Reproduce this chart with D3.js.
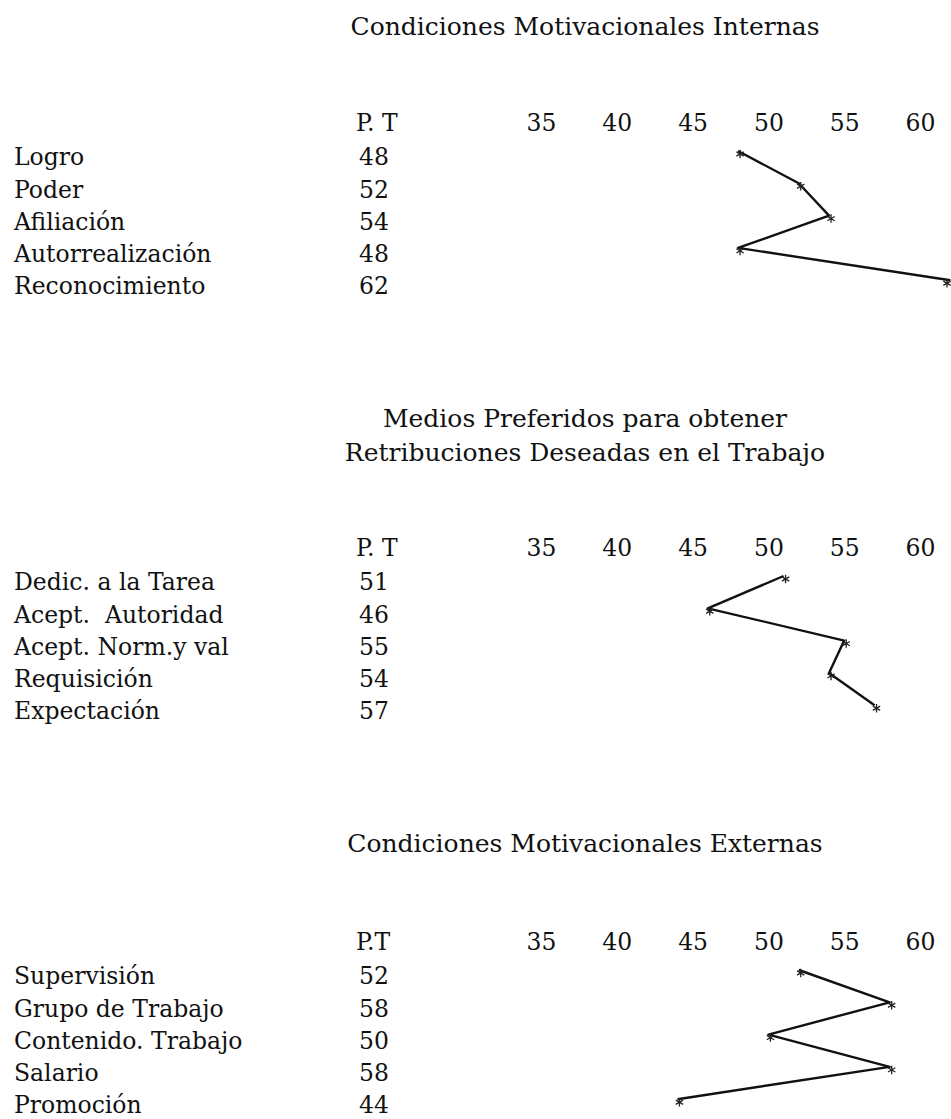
<!DOCTYPE html>
<html>
<head>
<meta charset="utf-8">
<script src="https://cdn.jsdelivr.net/npm/d3@7"></script>
<style>
  body { margin: 0; background: #fff; }
  text { font-family: "DejaVu Serif", serif; fill: #111; white-space: pre; }
</style>
</head>
<body>
<div id="chart"></div>
<script>
// datos
const ticks = [35, 40, 45, 50, 55, 60];

const internasTitulo = ["Condiciones Motivacionales Internas"];
const internasCabecera = "P. T";
const internasCategorias = ["Logro", "Poder", "Afiliación", "Autorrealización", "Reconocimiento"];
const internasValores = [48, 52, 54, 48, 62];

const mediosTitulo = ["Medios Preferidos para obtener", "Retribuciones Deseadas en el Trabajo"];
const mediosCabecera = "P. T";
const mediosCategorias = ["Dedic. a la Tarea", "Acept.  Autoridad", "Acept. Norm.y val", "Requisición", "Expectación"];
const mediosValores = [51, 46, 55, 54, 57];

const externasTitulo = ["Condiciones Motivacionales Externas"];
const externasCabecera = "P.T";
const externasCategorias = ["Supervisión", "Grupo de Trabajo", "Contenido. Trabajo", "Salario", "Promoción"];
const externasValores = [52, 58, 50, 58, 44];

const width = 951, height = 1119;
const fontSize = 23.5;
const titleSize = 25;

const svg = d3.select("#chart").append("svg")
    .attr("width", width)
    .attr("height", height);

const x = d3.scaleLinear().domain([35, 60]).range([541, 920]);
const star = d3.symbol().type(d3.symbolAsterisk).size(50);

function drawSection(titulo, tituloY, cabecera, headerY, categorias, valores) {
    let g = svg.append("g");

    // titulo
    g.selectAll(".titulo")
        .data(titulo)
        .enter()
        .append("text")
        .attr("class", "titulo")
        .attr("x", 585)
        .attr("y", (d, i) => tituloY + i * 34)
        .attr("dy", "0.35em")
        .attr("text-anchor", "middle")
        .attr("font-size", titleSize + "px")
        .text(d => d);

    // cabecera P.T
    g.append("text")
        .attr("x", 356)
        .attr("y", headerY)
        .attr("dy", "0.35em")
        .attr("font-size", fontSize + "px")
        .text(cabecera);

    // eje de puntuaciones
    let axis = g.append("g")
        .attr("transform", "translate(0," + headerY + ")")
        .call(d3.axisTop(x).tickValues(ticks).tickSize(0).tickPadding(0));
    axis.select(".domain").remove();
    axis.selectAll("text")
        .attr("dy", "0.35em")
        .attr("font-size", fontSize + "px")
        .attr("font-family", "DejaVu Serif, serif")
        .attr("fill", "#111");

    let y = d3.scalePoint()
        .domain(categorias)
        .range([headerY + 34, headerY + 34 + 4 * 32.3]);

    // etiquetas
    g.selectAll(".cat")
        .data(categorias)
        .enter()
        .append("text")
        .attr("class", "cat")
        .attr("x", 14)
        .attr("y", d => y(d))
        .attr("dy", "0.35em")
        .attr("font-size", fontSize + "px")
        .text(d => d);

    g.selectAll(".val")
        .data(valores)
        .enter()
        .append("text")
        .attr("class", "val")
        .attr("x", 359)
        .attr("y", (d, i) => y(categorias[i]))
        .attr("dy", "0.35em")
        .attr("font-size", fontSize + "px")
        .text(d => d);

    // perfil
    let pts = valores.map((v, i) => [x(v), y(categorias[i]) - 6]);
    g.append("path")
        .attr("d", d3.line()(pts))
        .attr("fill", "none")
        .attr("stroke", "#111")
        .attr("stroke-width", 2.4)
        .attr("stroke-linejoin", "round");

    g.selectAll(".star")
        .data(pts)
        .enter()
        .append("path")
        .attr("class", "star")
        .attr("transform", d => "translate(" + Math.min(d[0] + 2, width - 4) + "," + (d[1] + 3) + ")")
        .attr("d", star)
        .attr("fill", "none")
        .attr("stroke", "#222")
        .attr("stroke-width", 1.3);
}

drawSection(internasTitulo, 26, internasCabecera, 123, internasCategorias, internasValores);
drawSection(mediosTitulo, 418, mediosCabecera, 548, mediosCategorias, mediosValores);
drawSection(externasTitulo, 843, externasCabecera, 942, externasCategorias, externasValores);
</script>
</body>
</html>
